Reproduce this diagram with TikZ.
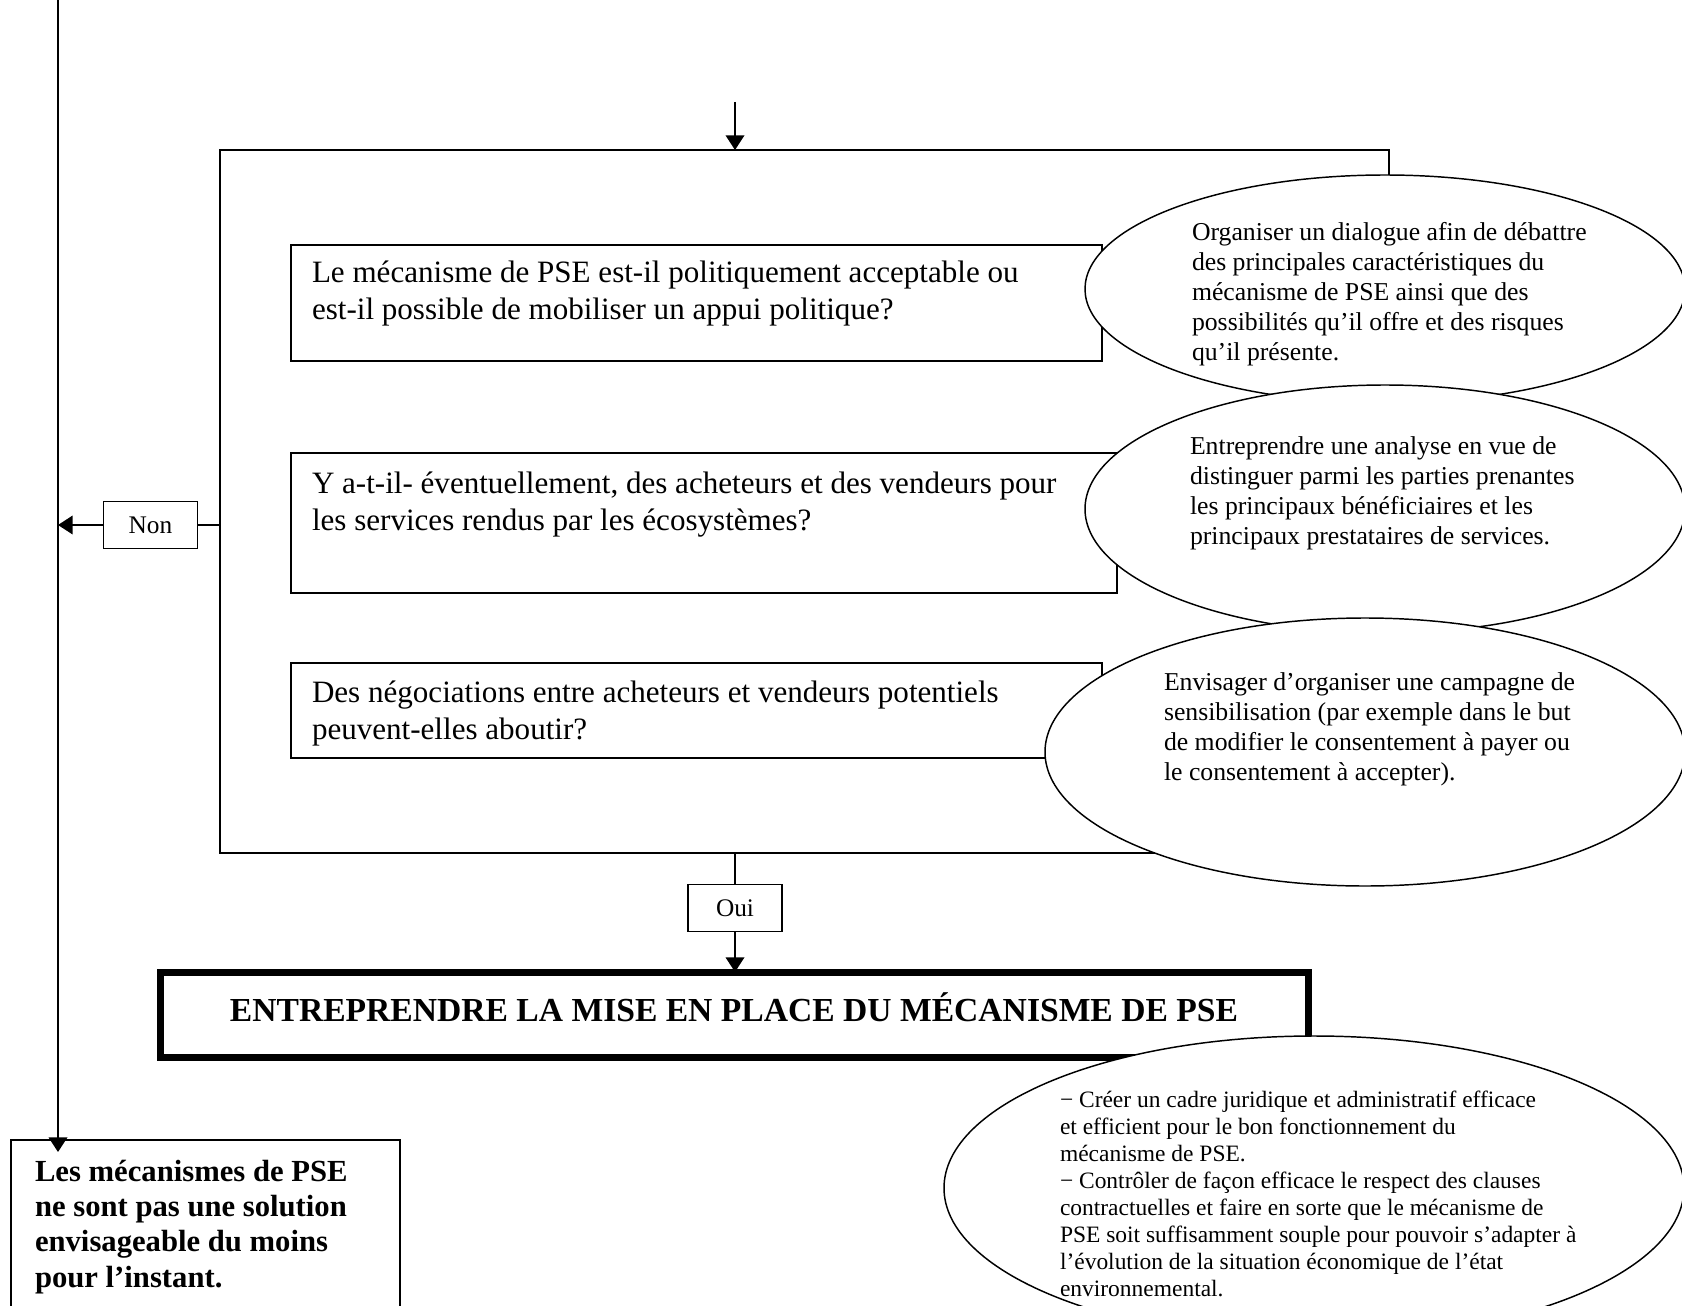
\documentclass[tikz,border=0pt]{standalone}
\usepackage{fontspec}
\setmainfont{Liberation Serif}
\usetikzlibrary{shapes.geometric,arrows.meta}

\begin{document}
\begin{tikzpicture}[x=0.75pt,y=0.75pt,yscale=-1,xscale=1,
	every node/.style={inner sep=0pt,outer sep=0pt},
	trait/.style={line width=1.1pt},
	qbox/.style={draw,trait,anchor=north west},
	bulle/.style={draw,trait,fill=white,ellipse},
	qtxt/.style={anchor=north west,align=left,font=\fontsize{23.3}{27.75}\selectfont},
	btxt/.style={anchor=north west,align=left,font=\fontsize{19.3}{22.5}\selectfont},
	choix/.style={draw,trait,minimum width=70.5pt,minimum height=35pt,font=\fontsize{19}{22}\selectfont},
	fleche/.style={trait,-{Triangle[length=11pt,width=14pt]}}
	]
	\useasboundingbox (0,0) rectangle (1682,1306);
	\clip (0,0) rectangle (1682,1306);
	\coordinate (haut) at (735,102);
	\coordinate (gauche) at (58,0);
	\node (cadre) [qbox,minimum width=876.75pt,minimum height=527.25pt] at (220,150) {};
	\node (q1) [qbox,minimum width=608.25pt,minimum height=87pt] at (291,245) {};
	\node (q2) [qbox,minimum width=619.5pt,minimum height=105pt] at (291,453) {};
	\node (q3) [qbox,minimum width=608.25pt,minimum height=71.25pt] at (291,663) {};
	\node (e1) [bulle,minimum width=450pt,minimum height=171pt] at (1385,289) {};
	\node (e2) [bulle,minimum width=450pt,minimum height=186pt] at (1385,509) {};
	\node (e3) [bulle,minimum width=480pt,minimum height=201pt] at (1365,752) {};
	\node (q1txt) [qtxt] at (312,261) {Le mécanisme de PSE est-il politiquement acceptable ou\\est-il possible de mobiliser un appui politique?};
	\node (q2txt) [qtxt] at (312,472) {Y a-t-il- éventuellement, des acheteurs et des vendeurs pour\\les services rendus par les écosystèmes?};
	\node (q3txt) [qtxt] at (312,681) {Des négociations entre acheteurs et vendeurs potentiels\\peuvent-elles aboutir?};
	\node (e1txt) [btxt] at (1192,222) {Organiser un dialogue afin de débattre\\des principales caractéristiques du\\mécanisme de PSE ainsi que des\\possibilités qu’il offre et des risques\\qu’il présente.};
	\node (e2txt) [btxt] at (1190,437) {Entreprendre une analyse en vue de\\distinguer parmi les parties prenantes\\les principaux bénéficiaires et les\\principaux prestataires de services.};
	\node (e3txt) [btxt] at (1164,673) {Envisager d’organiser une campagne de\\sensibilisation (par exemple dans le but\\de modifier le consentement à payer ou\\le consentement à accepter).};
	\node (non) [choix] at (150.5,525) {Non};
	\node (oui) [choix] at (735,908) {Oui};
	\node (action) [draw,line width=5.25pt,minimum width=861pt,minimum height=63.75pt,text depth=11pt,font=\bfseries\fontsize{25.2}{30}\selectfont] at (734,1014.5) {ENTREPRENDRE LA MISE EN PLACE DU MÉCANISME DE PSE};
	\node (e4) [bulle,minimum width=555pt,minimum height=228pt] at (1314,1188) {};
	\node (e4txt) [anchor=north west,align=left,font=\fontsize{17.6}{20.2}\selectfont] at (1060,1091) {− Créer un cadre juridique et administratif efficace\\et efficient pour le bon fonctionnement du\\mécanisme de PSE.\\− Contrôler de façon efficace le respect des clauses\\contractuelles et faire en sorte que le mécanisme de\\PSE soit suffisamment souple pour pouvoir s’adapter à\\l’évolution de la situation économique de l’état\\environnemental.};
	\node (stop) [qbox,minimum width=291.75pt,minimum height=150pt] at (11,1140) {};
	\node (stoptxt) [anchor=north west,align=left,font=\bfseries\fontsize{23}{26.5}\selectfont] at (35,1160) {Les mécanismes de PSE\\ne sont pas une solution\\envisageable du moins\\pour l’instant.};
	\draw [fleche] (haut) -- (haut |- cadre.north);
	\draw [trait] (cadre.west |- non) -- (non.east);
	\draw [fleche] (non.west) -- (gauche |- non);
	\draw [fleche,shorten >=-9pt] (gauche) -- (gauche |- stop.north);
	\draw [trait] (cadre.south -| oui) -- (oui.north);
	\draw [fleche] (oui.south) -- (oui |- action.north);
\end{tikzpicture}
\end{document}
